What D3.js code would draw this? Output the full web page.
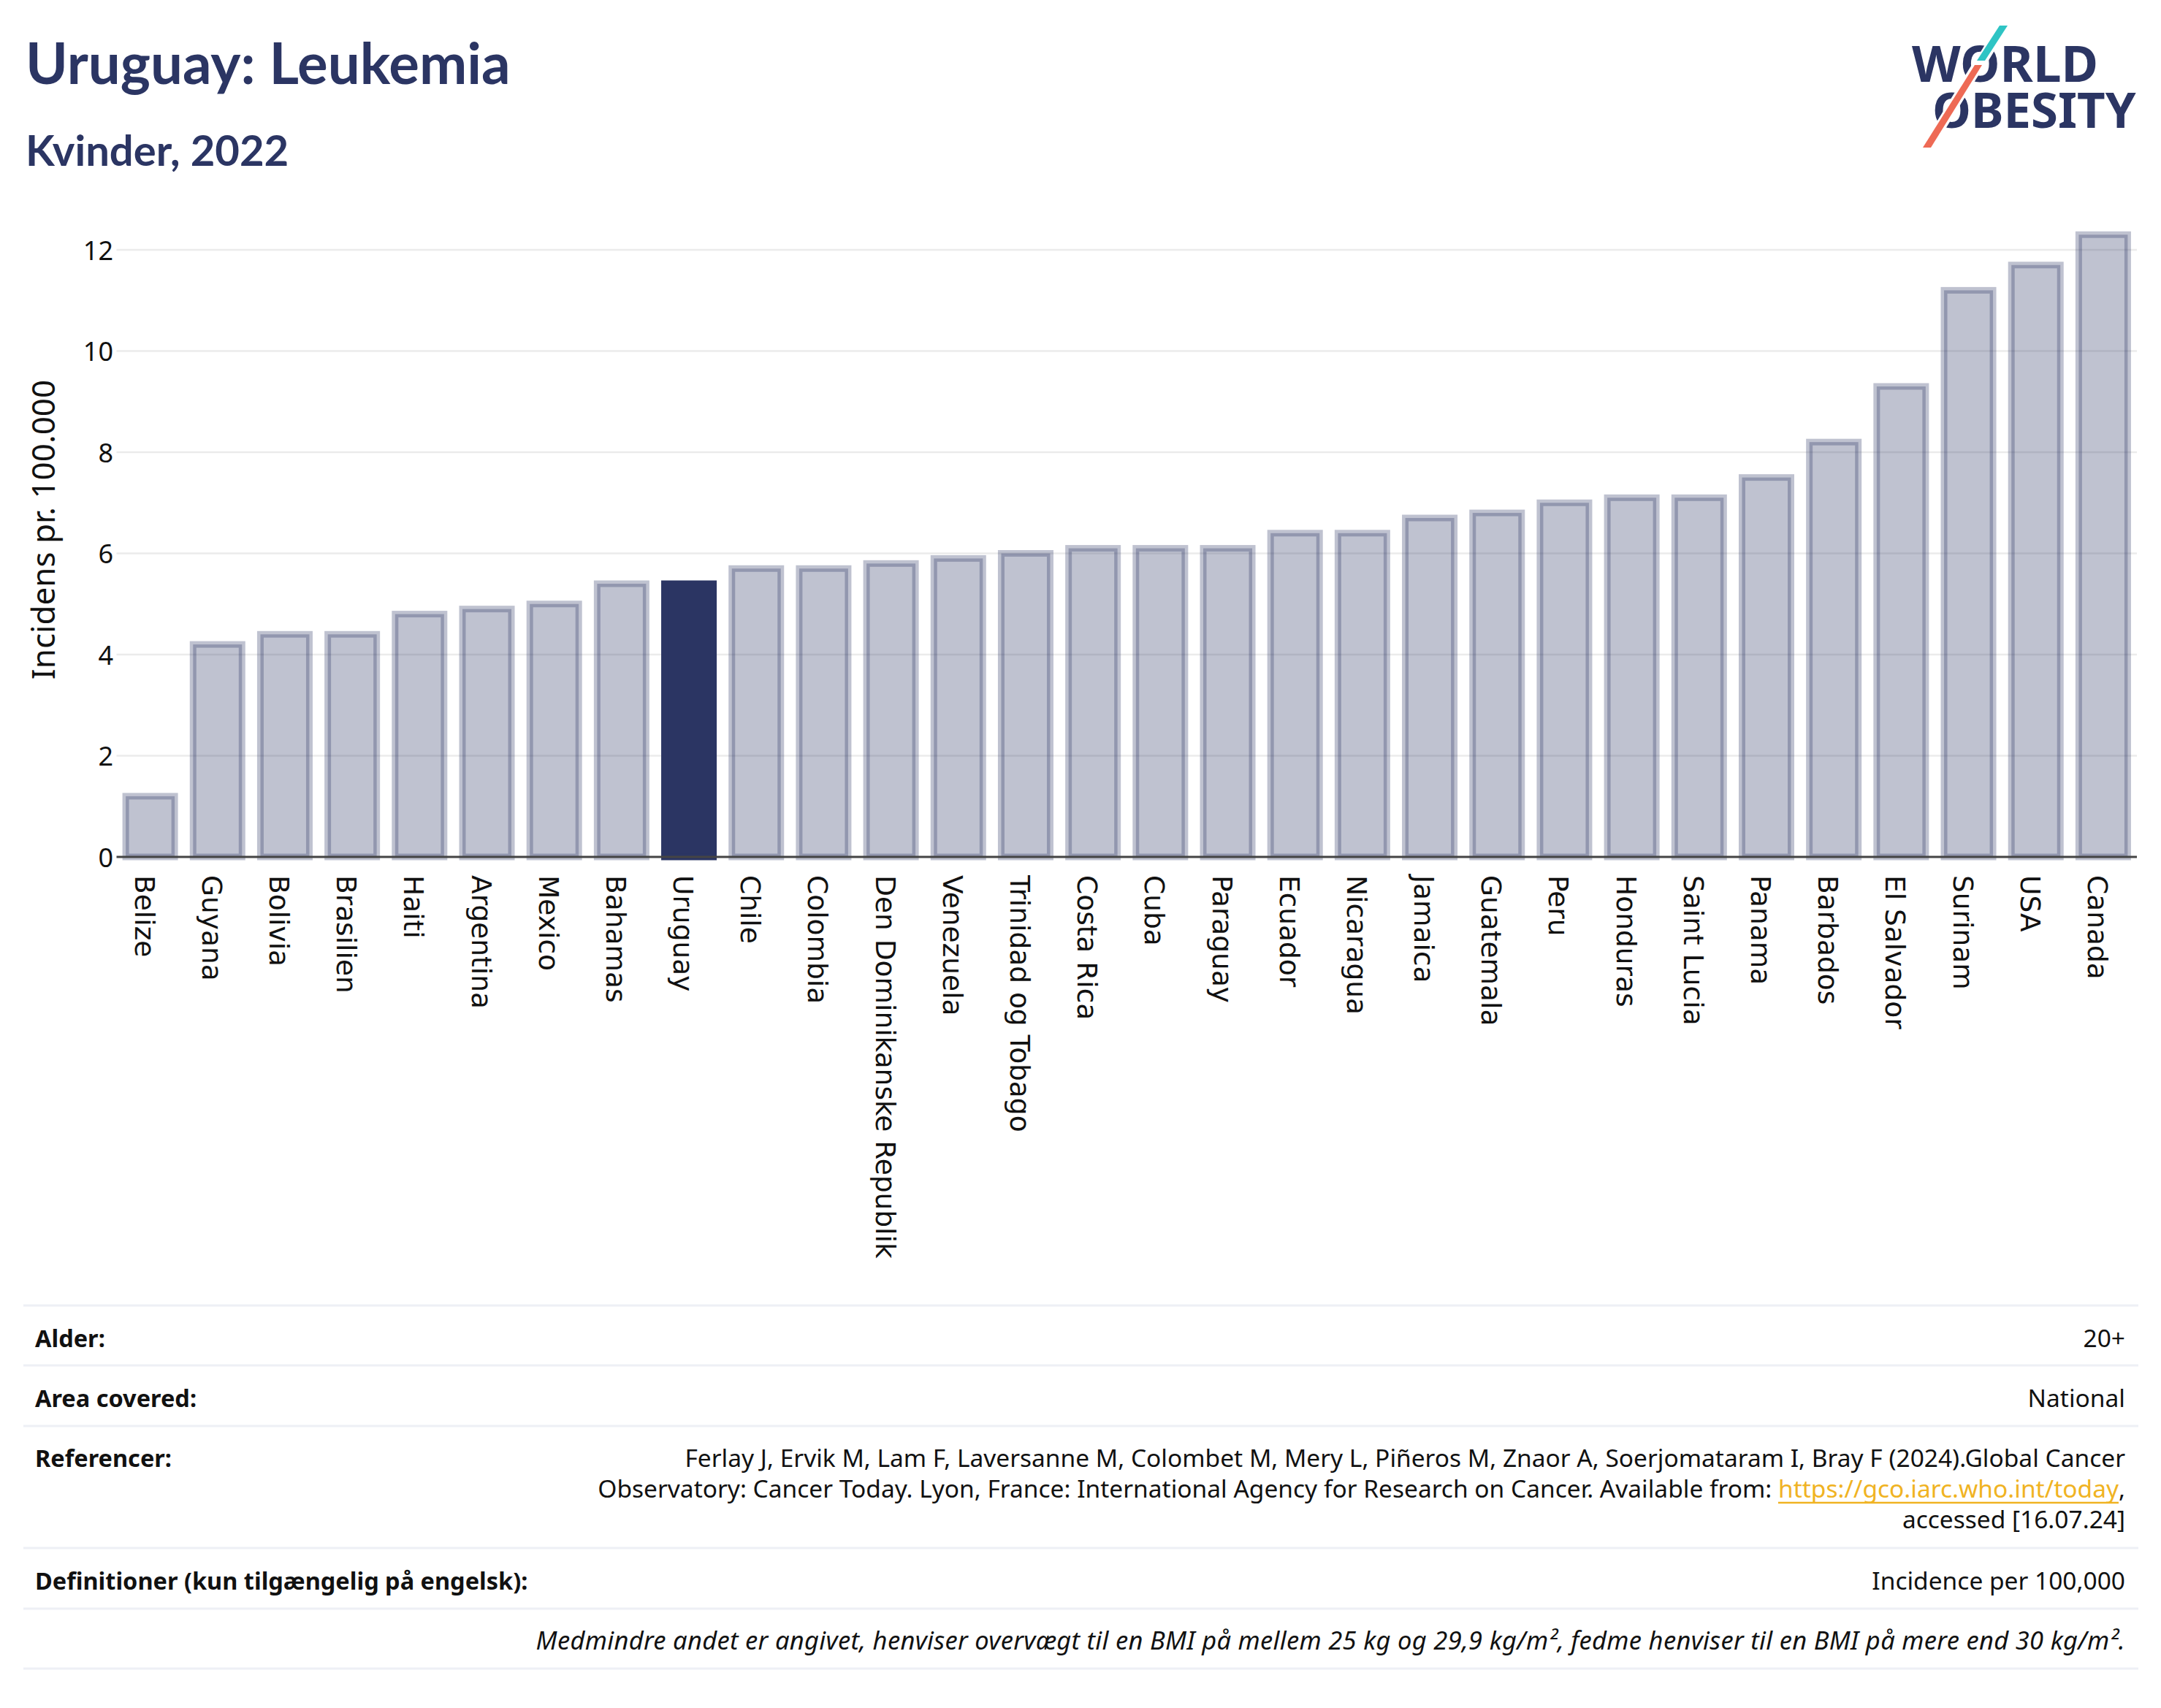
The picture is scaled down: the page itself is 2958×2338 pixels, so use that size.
<!DOCTYPE html>
<html>
<head>
<meta charset="utf-8">
<script src="https://cdn.jsdelivr.net/npm/d3@7"></script>
<style>
  html, body { margin: 0; padding: 0; background: #ffffff; }
  svg { display: block; }
  text { white-space: pre; }
</style>
</head>
<body>
<svg id="chart" width="2958" height="2338"></svg>
<script>
// ---------- DATA ----------
const countries = ["Belize","Guyana","Bolivia","Brasilien","Haiti","Argentina","Mexico","Bahamas","Uruguay","Chile","Colombia","Den Dominikanske Republik","Venezuela","Trinidad og Tobago","Costa Rica","Cuba","Paraguay","Ecuador","Nicaragua","Jamaica","Guatemala","Peru","Honduras","Saint Lucia","Panama","Barbados","El Salvador","Surinam","USA","Canada"];
const values = [1.2,4.2,4.4,4.4,4.8,4.9,5.0,5.4,5.4,5.7,5.7,5.8,5.9,6.0,6.1,6.1,6.1,6.4,6.4,6.7,6.8,7.0,7.1,7.1,7.5,8.2,9.3,11.2,11.7,12.3];
const highlightCountry = "Uruguay";
const yTicks = [0,2,4,6,8,10,12];
const titleText = "Uruguay: Leukemia";
const subtitleText = "Kvinder, 2022";
const yAxisTitle = "Incidens pr. 100.000";
const footerLabels = ["Alder:", "Area covered:", "Referencer:", "Definitioner (kun tilgængelig på engelsk):"];
const footerValues = ["20+", "National", null, "Incidence per 100,000"];
const refLine1 = "Ferlay J, Ervik M, Lam F, Laversanne M, Colombet M, Mery L, Piñeros M, Znaor A, Soerjomataram I, Bray F (2024).Global Cancer";
const refLine2Prefix = "Observatory: Cancer Today. Lyon, France: International Agency for Research on Cancer. Available from: ";
const refLink = "https://gco.iarc.who.int/today";
const refLine3 = "accessed [16.07.24]";
const noteText = "Medmindre andet er angivet, henviser overvægt til en BMI på mellem 25 kg og 29,9 kg/m², fedme henviser til en BMI på mere end 30 kg/m².";

// ---------- STYLE ----------
const NAVY = "#2b3563";
const svg = d3.select("#chart");
const plotLeft = 159.5, plotRight = 2925, plotBottom = 1173;
const unitPx = 69.25;

const x = d3.scaleBand().domain(countries).range([plotLeft, plotRight]).paddingInner(0.273).paddingOuter(0.1365);
const y = d3.scaleLinear().domain([0, 12.9]).range([plotBottom, plotBottom - 12.9 * unitPx]);

// Title
svg.append("text").attr("x", 35).attr("y", 115)
  .attr("font-family", "Lato, 'Noto Sans', sans-serif").attr("font-weight", 700)
  .attr("font-size", 78).attr("fill", NAVY).text(titleText);
svg.append("text").attr("x", 35).attr("y", 227)
  .attr("font-family", "Lato, 'Noto Sans', sans-serif").attr("font-weight", 700)
  .attr("font-size", 58).attr("fill", NAVY).text(subtitleText);

// Logo (one text element, two lines)
const logo = svg.append("g");
const logoText = logo.append("text")
  .attr("font-family", "'Noto Sans', sans-serif").attr("font-weight", 700).attr("fill", NAVY);
logoText.append("tspan").attr("x", 2617).attr("y", 112).attr("font-size", 69).text("WORLD");
logoText.append("tspan").attr("x", 2645).attr("y", 175).attr("font-size", 67).text("OBESITY");
// white gaps
logo.append("polygon").attr("points", "2734,33 2752,33 2720,86 2702,86").attr("fill", "#fff");
logo.append("polygon").attr("points", "2700,87 2718,87 2646,204 2628,204").attr("fill", "#fff");
logo.append("polygon").attr("points", "2737,35 2748,35 2717,83 2706,83").attr("fill", "#2ec4c4");
logo.append("polygon").attr("points", "2703,89 2713,89 2643,202 2632,202").attr("fill", "#ee6a55");

// Gridlines
svg.append("g").selectAll("line").data(yTicks.filter(d => d > 0)).join("line")
  .attr("x1", plotLeft).attr("x2", plotRight)
  .attr("y1", d => y(d)).attr("y2", d => y(d))
  .attr("stroke", "#ebebeb").attr("stroke-width", 2.5);

// Y tick labels
svg.append("g").selectAll("text").data(yTicks).join("text")
  .attr("x", 155).attr("y", d => y(d))
  .attr("text-anchor", "end").attr("dominant-baseline", "central")
  .attr("font-family", "'Noto Sans', sans-serif").attr("font-size", 36)
  .attr("fill", "#111").text(d => d);

// Y axis title
svg.append("text")
  .attr("transform", "translate(75,725) rotate(-90)")
  .attr("text-anchor", "middle")
  .attr("font-family", "'Noto Sans', sans-serif").attr("font-size", 44)
  .attr("fill", "#111").text(yAxisTitle);

// Bars
const data = countries.map((c, i) => ({ c, v: values[i] }));
svg.append("g").selectAll("rect").data(data).join("rect")
  .attr("x", d => x(d.c)).attr("width", x.bandwidth())
  .attr("y", d => y(d.v)).attr("height", d => y(0) - y(d.v))
  .attr("fill", NAVY).attr("fill-opacity", d => d.c === highlightCountry ? 1 : 0.3)
  .attr("stroke", NAVY).attr("stroke-opacity", d => d.c === highlightCountry ? 1 : 0.3)
  .attr("stroke-width", 9);

// X axis line
svg.append("line").attr("x1", plotLeft).attr("x2", plotRight)
  .attr("y1", plotBottom).attr("y2", plotBottom)
  .attr("stroke", "#444").attr("stroke-width", 3);

// X tick labels (rotated)
svg.append("g").selectAll("text").data(countries).join("text")
  .attr("transform", d => `translate(${x(d) + x.bandwidth() / 2 - 21},1198) rotate(90)`)
  .attr("font-family", "'DejaVu Sans', sans-serif").attr("font-size", 37.5)
  .attr("fill", "#111").text(d => d);

// Footer table
const tableLeft = 32, tableRight = 2927, textLeft = 48, textRight = 2909;
const sepYs = [1787, 1869, 1952, 2119, 2202, 2284];
svg.append("g").selectAll("line").data(sepYs).join("line")
  .attr("x1", tableLeft).attr("x2", tableRight)
  .attr("y1", d => d).attr("y2", d => d)
  .attr("stroke", "#eef0f5").attr("stroke-width", 3);

const FF = "'Noto Sans', sans-serif";
const FS = 33.5;
const labelYs = [1844, 1926, 2008, 2176];
svg.append("g").selectAll("text").data(footerLabels).join("text")
  .attr("x", textLeft).attr("y", (d, i) => labelYs[i])
  .attr("font-family", FF).attr("font-weight", 700).attr("font-size", 32.5)
  .attr("fill", "#111").text(d => d);
svg.append("g").selectAll("text").data(footerValues.map((v, i) => ({ v, i })).filter(d => d.v))
  .join("text")
  .attr("x", textRight).attr("y", d => labelYs[d.i]).attr("text-anchor", "end")
  .attr("font-family", FF).attr("font-size", FS).attr("fill", "#111").text(d => d.v);

// references
svg.append("text").attr("x", textRight).attr("y", 2008).attr("text-anchor", "end")
  .attr("font-family", FF).attr("font-size", FS).attr("fill", "#111").text(refLine1);
const comma = svg.append("text").attr("x", textRight).attr("y", 2050).attr("text-anchor", "end")
  .attr("font-family", FF).attr("font-size", FS).attr("fill", "#111").text(",");
const commaW = comma.node().getComputedTextLength();
const link = svg.append("text").attr("x", textRight - commaW).attr("y", 2050).attr("text-anchor", "end")
  .attr("font-family", FF).attr("font-size", FS).attr("fill", "#f0b323").text(refLink);
const linkW = link.node().getComputedTextLength();
const linkStart = textRight - commaW - linkW;
svg.append("line").attr("x1", linkStart).attr("x2", textRight - commaW)
  .attr("y1", 2057).attr("y2", 2057).attr("stroke", "#f0b323").attr("stroke-width", 2.5);
const prefix = svg.append("text").attr("y", 2050)
  .attr("font-family", FF).attr("font-size", FS).attr("fill", "#111").text(refLine2Prefix);
const prefixW = prefix.node().getComputedTextLength();
prefix.attr("x", linkStart - prefixW);
svg.append("text").attr("x", textRight).attr("y", 2092).attr("text-anchor", "end")
  .attr("font-family", FF).attr("font-size", FS).attr("fill", "#111").text(refLine3);

// note
svg.append("text").attr("x", textRight).attr("y", 2258).attr("text-anchor", "end")
  .attr("font-family", FF).attr("font-style", "italic").attr("font-size", 34.5)
  .attr("letter-spacing", 0.3)
  .attr("fill", "#111").text(noteText);
</script>
</body>
</html>
